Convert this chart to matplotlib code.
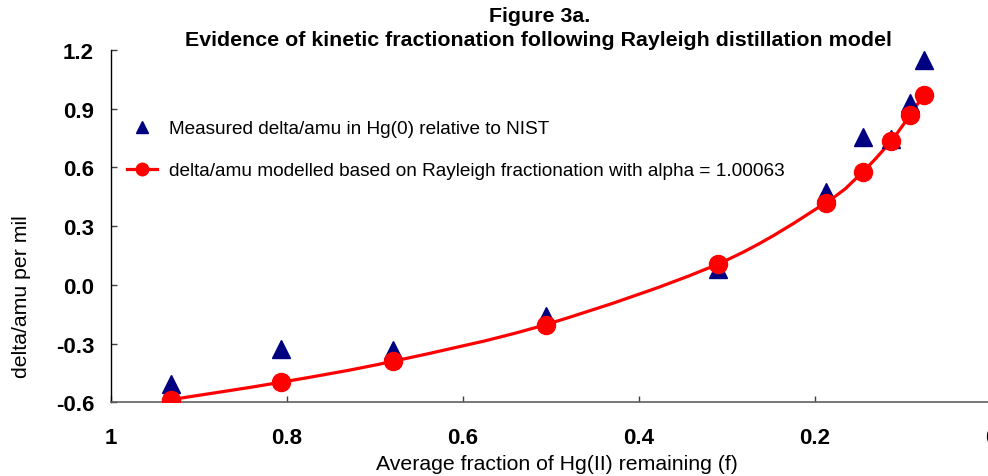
import numpy as np
import matplotlib
matplotlib.use("Agg")
import matplotlib.pyplot as plt
from matplotlib.lines import Line2D
from matplotlib.path import Path
from matplotlib.patches import PathPatch

plt.rcParams['font.family'] = ['Liberation Sans', 'DejaVu Sans']
plt.rcParams['axes.unicode_minus'] = False

# ---- data ----
f_values = [0.931, 0.806, 0.679, 0.506, 0.310, 0.188, 0.1455, 0.114, 0.0917, 0.0766]
measured = [-0.508, -0.330, -0.335, -0.158, 0.082, 0.475, 0.755, 0.745, 0.93, 1.147]
modelled = [-0.586, -0.497, -0.390, -0.203, 0.107, 0.419, 0.579, 0.733, 0.869, 0.971]
x_ticks = [1, 0.8, 0.6, 0.4, 0.2, 0]
x_tick_labels = ["1", "0.8", "0.6", "0.4", "0.2", "0"]
y_ticks = [-0.6, -0.3, 0.0, 0.3, 0.6, 0.9, 1.2]
y_tick_labels = ["-0.6", "-0.3", "0.0", "0.3", "0.6", "0.9", "1.2"]

title_line1 = "Figure 3a."
title_line2 = "Evidence of kinetic fractionation following Rayleigh distillation model"
x_label = "Average fraction of Hg(II) remaining (f)"
y_label = "delta/amu per mil"
legend_measured = "Measured delta/amu in Hg(0) relative to NIST"
legend_model = "delta/amu modelled based on Rayleigh fractionation with alpha = 1.00063"

W, H = 988, 477
fig = plt.figure(figsize=(W / 100, H / 100), dpi=100)
fig.patch.set_facecolor('white')

left_px, right_px, top_px, bottom_px = 110.7, 991.0, 51.0, 403.3
ax = fig.add_axes([left_px / W, 1 - bottom_px / H, (right_px - left_px) / W, (bottom_px - top_px) / H])
ax.set_xlim(1, 0)
ax.set_ylim(-0.6, 1.2)

# smoothed (Excel-like Catmull-Rom Bezier) line through modelled points
xs = np.array(f_values, float)
ys = np.array(modelled, float)
pts = np.column_stack([xs, ys])
verts = [pts[0]]
codes = [Path.MOVETO]
n = len(pts)
for i in range(n - 1):
    p0 = pts[i - 1] if i > 0 else pts[i]
    p1 = pts[i]
    p2 = pts[i + 1]
    p3 = pts[i + 2] if i + 2 < n else pts[i + 1]
    c1 = p1 + (p2 - p0) / 6.0
    c2 = p2 - (p3 - p1) / 6.0
    verts += [c1, c2, p2]
    codes += [Path.CURVE4] * 3
patch = PathPatch(Path(verts, codes), facecolor='none', edgecolor='#FF0000', lw=2.3,
                  transform=ax.transData, zorder=2)
ax.add_patch(patch)

ax.plot(f_values, measured, linestyle='none', marker='^', ms=13.5, color='#000080',
        markeredgecolor='#000080', zorder=3)
ax.plot(f_values, modelled, linestyle='none', marker='o', ms=13, color='#FF0000',
        markeredgecolor='#FF0000', zorder=4)

for s in ['top', 'right']:
    ax.spines[s].set_visible(False)
ax.spines['left'].set_color('black')
ax.spines['bottom'].set_color('#606060')
ax.spines['left'].set_linewidth(1.0)
ax.spines['bottom'].set_linewidth(1.2)

ax.set_xticks(x_ticks)
ax.set_xticklabels(x_tick_labels, fontsize=16, fontweight='bold')
ax.set_yticks(y_ticks)
ax.set_yticklabels(y_tick_labels, fontsize=16, fontweight='bold')
ax.tick_params(axis='both', direction='in', length=4.5, width=1.0, color='#404040')
ax.tick_params(axis='x', pad=18)
ax.tick_params(axis='y', pad=12)

fig.text(540 / W, 1 - 17 / H, title_line1, ha='center', va='center', fontsize=15.4, fontweight='bold')
fig.text(538 / W, 1 - 41 / H, title_line2, ha='center', va='center', fontsize=15.4, fontweight='bold')
fig.text(557 / W, 1 - 465 / H, x_label, ha='center', va='center', fontsize=15.3)
fig.text(22 / W, 1 - 297 / H, y_label, ha='center', va='center', fontsize=15.3, rotation=90)

handles = [
    Line2D([], [], linestyle='none', marker='^', ms=9, color='#000080'),
    Line2D([], [], linestyle='-', lw=2.3, marker='o', ms=9, color='#FF0000'),
]
leg = fig.legend(handles, [legend_measured, legend_model], loc='upper left',
                 bbox_to_anchor=(127 / W, 1 - 121 / H), bbox_transform=fig.transFigure,
                 frameon=False, fontsize=13.7, borderpad=0, borderaxespad=0,
                 handlelength=1.6, handletextpad=0.6, labelspacing=1.3)

fig.savefig('out.png', dpi=100)
